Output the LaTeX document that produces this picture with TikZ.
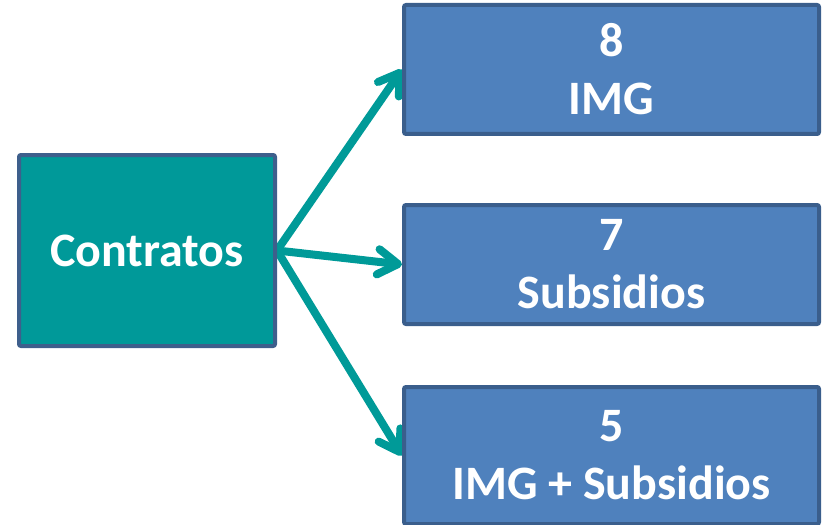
\documentclass[tikz,border=0pt]{standalone}
\usepackage{fontspec}
\setmainfont{Carlito}
\usetikzlibrary{arrows.meta,backgrounds}
\definecolor{tealfill}{HTML}{009999}
\definecolor{tealborder}{HTML}{3E5F8C}
\definecolor{bluefill}{HTML}{4F81BD}
\definecolor{blueborder}{HTML}{3A5E8C}
\definecolor{arrowcol}{HTML}{009A98}
\tikzset{
  boxbase/.style={draw, line width=3pt, rounded corners=1.5pt, text=white,
    align=center, inner sep=0pt,
    font=\fontsize{36}{43.5}\selectfont\bfseries},
  srcbox/.style={boxbase, fill=tealfill, draw=tealborder,
    minimum width=192pt, minimum height=143.25pt},
  tgtbox/.style={boxbase, fill=bluefill, draw=blueborder,
    minimum width=311.25pt},
  link/.style={draw=arrowcol, line width=6pt, line cap=round,
    -{Straight Barb[length=15pt,width=19pt,round]}}
}
\begin{document}
\begin{tikzpicture}[x=0.75pt,y=-0.75pt]
\useasboundingbox (0,0) rectangle (823,524);
\node[srcbox] (c) at (147,250.5) {Contratos};
\node[tgtbox, minimum height=96.75pt] (t1) at (611.5,69.5) {8\\IMG};
\node[tgtbox, minimum height=89.25pt] (t2) at (611.5,264.5) {7\\Subsidios};
\node[tgtbox, minimum height=102.75pt] (t3) at (611.5,455.5) {5\\IMG + Subsidios};
\begin{scope}[on background layer]
\draw[link] (c.east) -- (t1.west);
\draw[link] (c.east) -- (t2.west);
\draw[link] (c.east) -- (t3.west);
\end{scope}
\end{tikzpicture}
\end{document}
